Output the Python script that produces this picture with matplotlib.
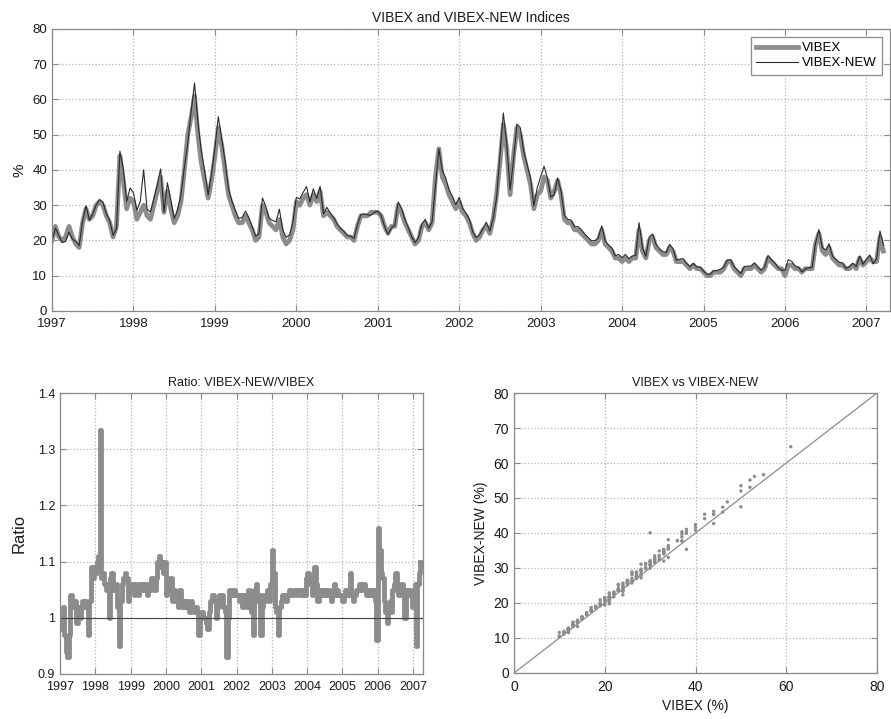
import numpy as np
import matplotlib
matplotlib.use('Agg')
import matplotlib.pyplot as plt

plt.rcParams['font.family'] = ['Liberation Sans', 'DejaVu Sans']

# VIBEX (%), two readings per month from Jan 1997
vibex_1997 = [20, 24, 21, 20, 21, 24, 21, 19, 18, 25, 29, 26, 27, 30, 31, 30, 27, 25, 21, 24, 44, 37, 29, 32]
vibex_1998 = [31, 26, 28, 30, 27, 26, 30, 34, 38, 28, 34, 29, 25, 27, 31, 40, 50, 55, 61, 50, 42, 37, 32, 37]
vibex_1999 = [44, 52, 47, 40, 33, 30, 27, 25, 25, 27, 25, 23, 20, 21, 30, 28, 25, 24, 23, 26, 21, 19, 20, 23]
vibex_2000 = [31, 30, 32, 33, 30, 33, 31, 34, 27, 28, 27, 26, 24, 23, 22, 21, 21, 20, 24, 27, 27, 27, 28, 28]
vibex_2001 = [28, 27, 24, 22, 24, 24, 30, 28, 25, 23, 21, 19, 20, 24, 25, 23, 25, 38, 46, 38, 36, 33, 31, 29]
vibex_2002 = [31, 28, 27, 25, 22, 20, 21, 23, 24, 22, 26, 33, 42, 53, 46, 33, 44, 52, 50, 44, 40, 36, 29, 33]
vibex_2003 = [34, 38, 37, 32, 34, 37, 33, 26, 25, 25, 23, 23, 22, 21, 20, 19, 19, 20, 23, 19, 18, 17, 15, 15]
vibex_2004 = [14, 15, 14, 15, 15, 23, 17, 15, 20, 21, 18, 17, 16, 16, 18, 17, 14, 14, 14, 13, 12, 13, 12, 12]
vibex_2005 = [11, 10, 10, 11, 11, 11, 12, 14, 14, 12, 11, 10, 12, 12, 12, 13, 12, 11, 12, 15, 14, 13, 12, 12]
vibex_2006 = [10, 13, 13, 12, 12, 11, 12, 12, 12, 19, 22, 17, 16, 18, 15, 14, 13, 13, 12, 12, 13, 12, 15, 13]
vibex_2007 = [14, 15, 14, 14, 21, 17]

# ratio VIBEX-NEW / VIBEX, same dates
ratio_1997 = [0.99, 0.98, 1.02, 0.97, 0.94, 0.93, 0.97, 1.04, 1.03, 1.02, 1.03, 0.99,
              1.02, 1.00, 1.02, 1.03, 1.02, 1.03, 1.02, 0.97, 1.03, 1.09, 1.07, 1.09]
ratio_1998 = [1.08, 1.10, 1.11, 1.335, 1.07, 1.08, 1.06, 1.05, 1.06, 1.00, 1.07, 1.08,
              1.05, 1.06, 1.06, 1.02, 0.95, 1.03, 1.06, 1.07, 1.08, 1.07, 1.03, 1.05]
ratio_1999 = [1.05, 1.06, 1.04, 1.06, 1.05, 1.04, 1.06, 1.05, 1.06, 1.05, 1.06, 1.04,
              1.06, 1.05, 1.07, 1.06, 1.05, 1.07, 1.10, 1.11, 1.09, 1.10, 1.08, 1.10]
ratio_2000 = [1.04, 1.06, 1.05, 1.07, 1.03, 1.05, 1.03, 1.04, 1.02, 1.05, 1.03, 1.02,
              1.03, 1.02, 1.03, 1.02, 1.01, 1.03, 1.02, 1.01, 1.02, 1.01, 0.97, 1.00]
ratio_2001 = [1.01, 1.00, 1.00, 0.99, 0.98, 1.01, 1.03, 1.04, 1.04, 1.03, 1.00, 1.02,
              1.04, 1.03, 1.04, 1.02, 1.01, 0.93, 1.00, 1.05, 1.05, 1.04, 1.05, 1.04]
ratio_2002 = [1.04, 1.04, 1.03, 1.04, 1.02, 1.04, 1.03, 1.02, 1.05, 1.03, 1.01, 0.97,
              1.05, 1.06, 1.03, 1.04, 0.97, 1.02, 1.04, 1.03, 1.04, 1.05, 1.03, 1.06]
ratio_2003 = [1.12, 1.08, 1.02, 1.01, 0.97, 1.02, 1.03, 1.04, 1.04, 1.03, 1.04, 1.04,
              1.05, 1.04, 1.04, 1.05, 1.05, 1.04, 1.05, 1.05, 1.04, 1.05, 1.04, 1.07]
ratio_2004 = [1.08, 1.07, 1.06, 1.04, 1.05, 1.09, 1.06, 1.03, 1.05, 1.04, 1.05, 1.04,
              1.05, 1.04, 1.05, 1.04, 1.03, 1.05, 1.06, 1.04, 1.05, 1.04, 1.04, 1.04]
ratio_2005 = [1.03, 1.04, 1.05, 1.04, 1.04, 1.08, 1.04, 1.03, 1.04, 1.05, 1.05, 1.06,
              1.05, 1.06, 1.06, 1.05, 1.04, 1.05, 1.04, 1.05, 1.04, 1.05, 1.03, 0.96]
ratio_2006 = [1.16, 1.12, 1.08, 1.07, 1.03, 1.01, 0.99, 1.02, 1.03, 1.01, 1.05, 1.06,
              1.08, 1.06, 1.04, 1.05, 1.06, 1.05, 1.00, 1.05, 1.04, 1.05, 1.04, 1.02]
ratio_2007 = [1.05, 1.06, 0.95, 1.06, 1.08, 1.10]

years = list(range(1997, 2008))

vibex = np.array(vibex_1997 + vibex_1998 + vibex_1999 + vibex_2000 + vibex_2001 + vibex_2002
                 + vibex_2003 + vibex_2004 + vibex_2005 + vibex_2006 + vibex_2007, dtype=float)
ratio = np.array(ratio_1997 + ratio_1998 + ratio_1999 + ratio_2000 + ratio_2001 + ratio_2002
                 + ratio_2003 + ratio_2004 + ratio_2005 + ratio_2006 + ratio_2007)
vibex_new = vibex * ratio
t = 1997 + np.arange(len(vibex)) / 24.0

FRAME = '#8a8a8a'
GRID = '#b5b5b5'
TXT = '#1a1a1a'


def style(ax):
    for s in ax.spines.values():
        s.set_color(FRAME)
        s.set_linewidth(0.9)
    ax.tick_params(direction='in', top=True, right=True, color=FRAME,
                   labelcolor=TXT, labelsize=9.5, length=4)
    ax.tick_params(axis='x', pad=5)
    ax.grid(True, linestyle=':', color=GRID, linewidth=0.9)
    ax.set_axisbelow(True)


fig = plt.figure(figsize=(8.91, 7.19), dpi=100)

# top: both indices
ax1 = fig.add_axes([0.0584, 0.5675, 0.9405, 0.3922])
ax1.plot(t, vibex, color='#8c8c8c', lw=3.4, label='VIBEX')
ax1.plot(t, vibex_new, color='#2a2a2a', lw=0.8, label='VIBEX-NEW')
ax1.set_xlim(1997, 2007.29)
ax1.set_ylim(0, 80)
ax1.set_xticks(years)
ax1.set_yticks(range(0, 81, 10))
ax1.set_title('VIBEX and VIBEX-NEW Indices', fontsize=10, color=TXT, pad=5)
ax1.set_ylabel('%', fontsize=11, color=TXT, labelpad=4)
style(ax1)
leg = ax1.legend(loc='upper right', fontsize=9.5, fancybox=False, framealpha=1,
                 edgecolor=FRAME, handlelength=3.2, borderaxespad=0.6,
                 labelspacing=0.2, handletextpad=0.3)
leg.get_frame().set_linewidth(0.9)

# bottom left: ratio
ax2 = fig.add_axes([0.0673, 0.0626, 0.4074, 0.3908])
ax2.plot(t, ratio, color='#8c8c8c', lw=3.5, drawstyle='steps-post')
ax2.axhline(1.0, color='#444444', lw=0.8)
ax2.set_xlim(1997, 2007.28)
ax2.set_ylim(0.9, 1.4)
ax2.set_xticks(years)
ax2.set_yticks([0.9, 1.0, 1.1, 1.2, 1.3, 1.4])
ax2.set_yticklabels(['0.9', '1', '1.1', '1.2', '1.3', '1.4'])
ax2.set_title('Ratio: VIBEX-NEW/VIBEX', fontsize=9, color=TXT, pad=5)
ax2.set_ylabel('Ratio', fontsize=12, color=TXT, labelpad=8)
style(ax2)
ax2.tick_params(labelsize=9)

# bottom right: scatter
ax3 = fig.add_axes([0.5769, 0.064, 0.4074, 0.3894])
ax3.plot([0, 80], [0, 80], color='#8c8c8c', lw=0.9)
ax3.scatter(vibex, vibex_new, s=6, color='#8c8c8c', edgecolors='none')
ax3.set_xlim(0, 80)
ax3.set_ylim(0, 80)
ax3.set_xticks(range(0, 81, 20))
ax3.set_yticks(range(0, 81, 10))
ax3.set_title('VIBEX vs VIBEX-NEW', fontsize=9, color=TXT, pad=5)
ax3.set_xlabel('VIBEX (%)', fontsize=10, color=TXT)
ax3.set_ylabel('VIBEX-NEW (%)', fontsize=10, color=TXT)
style(ax3)
ax3.tick_params(labelsize=10)

fig.savefig('out.png', dpi=100)
